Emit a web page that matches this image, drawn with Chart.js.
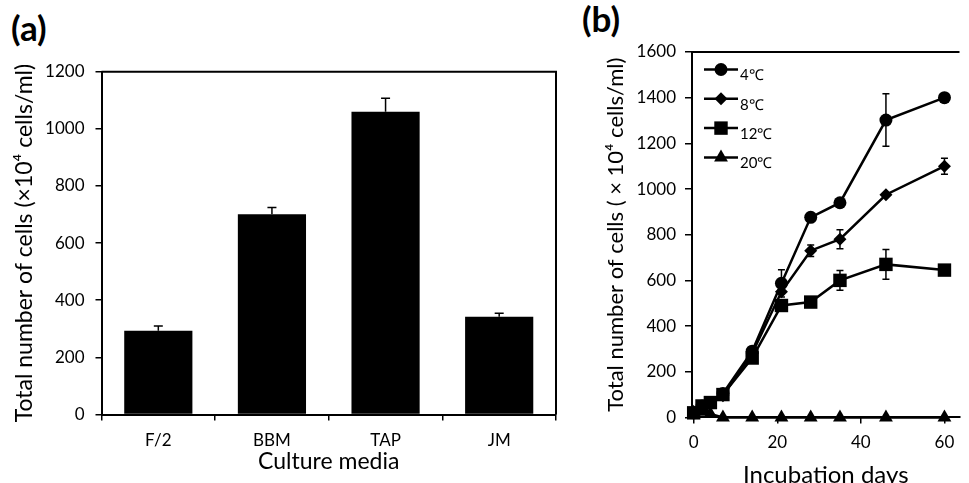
<!DOCTYPE html>
<html>
<head>
<meta charset="utf-8">
<script src="https://cdn.jsdelivr.net/npm/chart.js@4.4.1/dist/chart.umd.min.js"></script>
<style>
  body { margin: 0; background: #fff; width: 969px; height: 483px; overflow: hidden; position: relative; font-family: Lato, sans-serif; }
  .panel { position: absolute; top: 0; }
  .tag { position: absolute; font-weight: bold; font-size: 35px; line-height: 1; color: #000; }
</style>
</head>
<body>
<div class="tag" style="left:11px; top:10px;">(a)</div>
<div class="tag" style="left:582px; top:1px;">(b)</div>
<div class="panel" style="left:0;"><canvas id="mediaChart" width="575" height="483"></canvas></div>
<div class="panel" style="left:575px;"><canvas id="tempChart" width="394" height="495"></canvas></div>

<script>
// panel (a): growth in different culture media
const media = ['F/2', 'BBM', 'TAP', 'JM'];
const mediaCells = [293, 701, 1060, 342];
const mediaErr = [17, 24, 47, 12];

// panel (b): growth at different temperatures
const days = [0, 2, 4, 7, 14, 21, 28, 35, 46, 60];
const temps = ['4℃', '8℃', '12℃', '20℃'];
const cells4 = [20, 50, 65, 105, 290, 587, 876, 940, 1302, 1400];
const cells8 = [20, 45, 60, 95, 280, 550, 730, 780, 975, 1100];
const cells12 = [20, 50, 65, 100, 260, 490, 505, 600, 670, 645];
const cells20 = [20, 25, 15, 0, 0, 0, 0, 0, 0, 0];
const err4 = [0, 0, 0, 0, 0, 60, 0, 0, 115, 0];
const err8 = [0, 0, 0, 0, 0, 0, 25, 42, 0, 35];
const err12 = [0, 0, 0, 0, 0, 0, 0, 43, 65, 0];
const err20 = [0, 0, 0, 0, 0, 0, 0, 0, 0, 0];

const pointStyles = ['circle', 'rectRot', 'rect', 'triangle'];
const pointSizes = [6.5, 6.5, 9.5, 8];

// plain numbers, no thousands separator
const plain = function (v) { return String(v); };

// error bars drawn through the y scale
const errorBars = {
    id: 'errorBars',
    afterDatasetsDraw(chart, args, opts) {
        const ctx = chart.ctx;
        const yScale = chart.scales.y;
        ctx.save();
        ctx.strokeStyle = '#000';
        ctx.lineWidth = opts.width || 1.5;
        chart.data.datasets.forEach(function (ds, i) {
            if (!ds.errors) return;
            const meta = chart.getDatasetMeta(i);
            meta.data.forEach(function (el, j) {
                const e = ds.errors[j];
                if (!e) return;
                const v = meta.controller.getParsed(j).y;
                const top = yScale.getPixelForValue(v + e);
                const bot = opts.upOnly ? yScale.getPixelForValue(v) : yScale.getPixelForValue(v - e);
                const cap = opts.cap || 4;
                ctx.beginPath();
                ctx.moveTo(el.x, top);
                ctx.lineTo(el.x, bot);
                ctx.moveTo(el.x - cap, top);
                ctx.lineTo(el.x + cap, top);
                if (!opts.upOnly) {
                    ctx.moveTo(el.x - cap, bot);
                    ctx.lineTo(el.x + cap, bot);
                }
                ctx.stroke();
            });
        });
        ctx.restore();
    }
};

// top / right frame of the plot area
const frame = {
    id: 'frame',
    afterDraw(chart, args, opts) {
        const a = chart.chartArea;
        const ctx = chart.ctx;
        ctx.save();
        ctx.strokeStyle = '#000';
        ctx.lineWidth = 2;
        ctx.beginPath();
        ctx.moveTo(a.left, a.top);
        ctx.lineTo(a.right, a.top);
        if (opts.right) ctx.lineTo(a.right, a.bottom);
        ctx.stroke();
        ctx.restore();
    }
};

// legend with line + marker, inside the plot
const lineLegend = {
    id: 'lineLegend',
    afterDraw(chart) {
        const a = chart.chartArea;
        const ctx = chart.ctx;
        ctx.save();
        ctx.font = '15px Lato';
        ctx.textBaseline = 'middle';
        chart.data.datasets.forEach(function (ds, i) {
            const y = a.top + 17.5 + i * 29.3;
            ctx.strokeStyle = '#000';
            ctx.fillStyle = '#000';
            ctx.lineWidth = 2.5;
            ctx.beginPath();
            ctx.moveTo(a.left + 12, y);
            ctx.lineTo(a.left + 46, y);
            ctx.stroke();
            Chart.helpers.drawPoint(ctx, {
                pointStyle: ds.pointStyle, radius: ds.pointRadius, rotation: 0, borderWidth: 0
            }, a.left + 29, y);
            ctx.fillText(ds.label, a.left + 48, y + 6);
        });
        ctx.restore();
    }
};

let mediaChartDraw = function () {
    let ctx = document.getElementById('mediaChart').getContext('2d');
    window.mediaChart = new Chart(ctx, {
        type: 'bar',
        data: {
            labels: media,
            datasets: [{
                data: mediaCells,
                errors: mediaErr,
                backgroundColor: '#000',
                barPercentage: 0.6,
                categoryPercentage: 1
            }]
        },
        options: {
            responsive: false,
            animation: false,
            layout: { padding: { top: 71.7, right: 19, left: 0, bottom: 0 } },
            plugins: {
                legend: { display: false },
                tooltip: { enabled: false },
                errorBars: { upOnly: true, cap: 4.5, width: 1.5 },
                frame: { right: true }
            },
            scales: {
                x: {
                    afterFit: function (s) { s.height = 68.5; },
                    grid: { drawOnChartArea: false, tickLength: 6, color: '#000', lineWidth: 1.5 },
                    border: { color: '#000', width: 2 },
                    ticks: { color: '#000', font: { family: 'Lato', size: 17 }, padding: 10 },
                    title: { display: true, text: 'Culture media', color: '#000',
                             font: { family: 'Lato', size: 23 }, padding: { top: 0, bottom: 7.2 } }
                },
                y: {
                    min: 0, max: 1200,
                    afterFit: function (s) { s.width = 101.5; },
                    grid: { drawOnChartArea: false, tickLength: 6, color: '#000', lineWidth: 1.5 },
                    border: { color: '#000', width: 2 },
                    ticks: { stepSize: 200, callback: plain, color: '#000',
                             font: { family: 'Lato', size: 17 }, padding: 11 },
                    title: { display: true, text: 'Total number of cells (×10⁴ cells/ml)', color: '#000',
                             font: { family: 'Lato', size: 23 }, padding: { top: 11, bottom: 0 } }
                }
            }
        },
        plugins: [errorBars, frame]
    });
};

let tempChartDraw = function () {
    let ctx = document.getElementById('tempChart').getContext('2d');
    const series = [cells4, cells8, cells12, cells20];
    const errs = [err4, err8, err12, err20];
    const datasets = temps.map(function (t, i) {
        return {
            label: t,
            data: days.map(function (d, j) { return { x: d, y: series[i][j] }; }),
            errors: errs[i],
            borderColor: '#000',
            backgroundColor: '#000',
            borderWidth: 2.5,
            pointStyle: pointStyles[i],
            pointRadius: pointSizes[i],
            pointBorderWidth: 0,
            tension: 0,
            clip: false
        };
    });
    window.tempChart = new Chart(ctx, {
        type: 'line',
        data: { datasets: datasets },
        options: {
            responsive: false,
            animation: false,
            layout: { padding: { top: 52, right: 0, left: 0, bottom: 0 } },
            plugins: {
                legend: { display: false },
                tooltip: { enabled: false },
                errorBars: { upOnly: false, cap: 3.5, width: 1.5 },
                frame: { right: false }
            },
            scales: {
                x: {
                    type: 'linear',
                    min: -0.4, max: 63.6,
                    afterFit: function (s) { s.height = 77.6; },
                    grid: { drawOnChartArea: false, tickLength: 6, color: '#000', lineWidth: 1.5 },
                    border: { color: '#000', width: 2 },
                    ticks: { stepSize: 20, includeBounds: false, callback: plain, color: '#000',
                             font: { family: 'Lato', size: 17 }, padding: 9 },
                    title: { display: true, text: 'Incubation days', color: '#000',
                             font: { family: 'Lato', size: 24 }, padding: { top: 0, bottom: 5.6 } }
                },
                y: {
                    min: 0, max: 1600,
                    afterFit: function (s) { s.width = 117; },
                    grid: { drawOnChartArea: false, tickLength: 7, color: '#000', lineWidth: 1.5 },
                    border: { color: '#000', width: 2 },
                    ticks: { stepSize: 200, callback: plain, color: '#000',
                             font: { family: 'Lato', size: 17 }, padding: 9 },
                    title: { display: true, text: 'Total number of cells ( × 10⁴ cells/ml)', color: '#000',
                             font: { family: 'Lato', size: 22 }, padding: { top: 27.8, bottom: 0 } }
                }
            }
        },
        plugins: [errorBars, frame, lineLegend]
    });
};

window.onload = function () {
    mediaChartDraw();
    tempChartDraw();
};
</script>
</body>
</html>
